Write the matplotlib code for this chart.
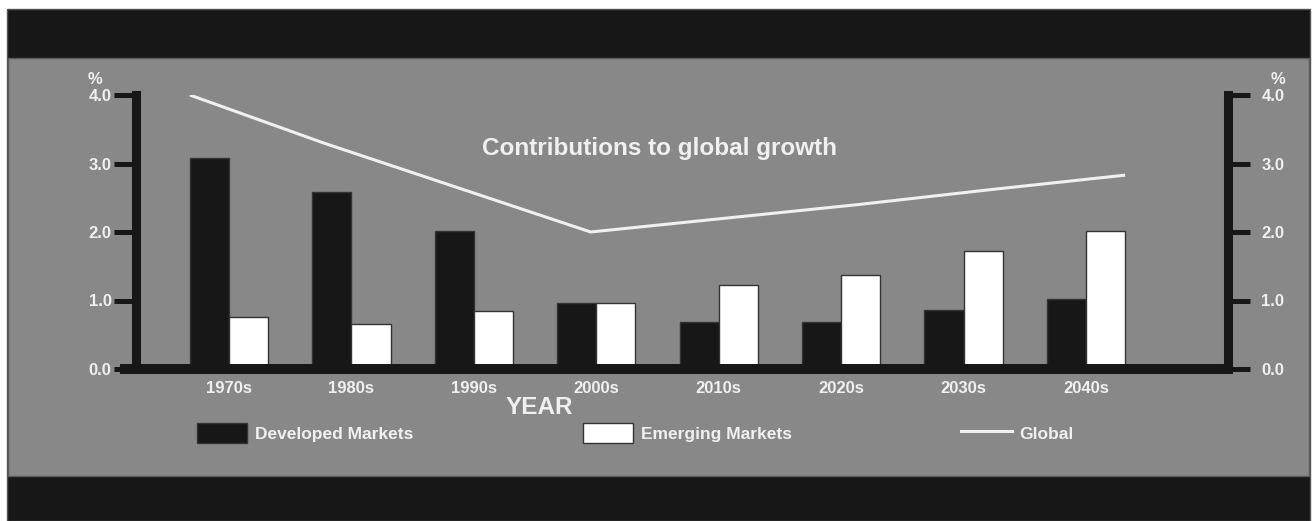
import matplotlib.pyplot as plt
import numpy as np
from matplotlib.patches import Rectangle, Patch
from matplotlib.lines import Line2D

plt.rcParams['font.family'] = ['Liberation Sans', 'DejaVu Sans']
plt.rcParams['font.weight'] = 'bold'

decades = ['1970s', '1980s', '1990s', '2000s', '2010s', '2020s', '2030s', '2040s']
developed = [3.08, 2.58, 2.01, 0.97, 0.69, 0.69, 0.86, 1.02]
emerging = [0.76, 0.66, 0.85, 0.97, 1.23, 1.37, 1.72, 2.01]
global_growth = [4.0, 3.3, 2.65, 2.0, 2.2, 2.4, 2.62, 2.83]
y_ticks = [0.0, 1.0, 2.0, 3.0, 4.0]

dark = '#171717'
panel = '#878887'
ink = '#f0f0f0'

W, H = 1316, 521
fig = plt.figure(figsize=(W / 100, H / 100), dpi=100)
fig.patch.set_facecolor('white')

# black frame with grey panel in the middle
fig.add_artist(Rectangle((7 / W, 0), 1303 / W, 512 / H, transform=fig.transFigure,
                         facecolor=dark, edgecolor='#555555', lw=1, zorder=0))
fig.add_artist(Rectangle((8 / W, 1 - 476 / H), 1301 / W, 418 / H, transform=fig.transFigure,
                         facecolor=panel, edgecolor='#5a5a5a', lw=1, zorder=0))

ax = fig.add_axes([136 / W, 1 - 369 / H, 1092 / W, 274 / H])
ax.set_facecolor('none')

x = np.arange(len(decades))
w = 0.32
ax.bar(x - w / 2, developed, w, color=dark, edgecolor='#333333', lw=1, zorder=2)
ax.bar(x + w / 2, emerging, w, color='white', edgecolor='#333333', lw=1, zorder=2)

# global line spans from the first bar's left edge to the last bar's right edge
line_x = np.linspace(-w, len(decades) - 1 + w, len(decades))
ax.plot(line_x, global_growth, color=ink, lw=2.2, zorder=3, solid_capstyle='butt')

ax.set_xlim(-0.76, 8.16)
ax.set_ylim(0, 4.0)

for s in ['top', 'bottom']:
    ax.spines[s].set_visible(False)
for s in ['left', 'right']:
    ax.spines[s].set_linewidth(6.5)
    ax.spines[s].set_color(dark)

# thick baseline
ax.plot([-16 / 1092, 1 + 5 / 1092], [0, 0], transform=ax.transAxes, color=dark,
        lw=7.2, solid_capstyle='butt', clip_on=False, zorder=4)

ax.set_xticks(x, decades)
ax.tick_params(axis='x', length=0, pad=8.6, labelsize=12, labelcolor=ink)
ax.set_yticks(y_ticks, [f'{v:.1f}' for v in y_ticks])
ax.tick_params(axis='y', length=15.5, width=3.6, color=dark, pad=2,
               labelsize=12, labelcolor=ink)

ax2 = ax.twinx()
ax2.set_ylim(0, 4.0)
for s in ['top', 'bottom', 'left', 'right']:
    ax2.spines[s].set_visible(False)
ax2.set_yticks(y_ticks, [f'{v:.1f}' for v in y_ticks])
ax2.tick_params(axis='y', length=15.5, width=3.6, color=dark, pad=8.6,
                labelsize=12, labelcolor=ink)

fig.text(95 / W, 1 - 79 / H, '%', color=ink, fontsize=12, ha='center', va='center')
fig.text(1278 / W, 1 - 79 / H, '%', color=ink, fontsize=12, ha='center', va='center')

fig.text(660 / W, 1 - 148 / H, 'Contributions to global growth', color=ink,
         fontsize=17.5, ha='center', va='center')
fig.text(539 / W, 1 - 408 / H, 'YEAR', color=ink, fontsize=17.5,
         ha='center', va='center')

handles = [Patch(facecolor=dark, edgecolor='#333333', lw=1),
           Patch(facecolor='white', edgecolor='#333333', lw=1),
           Line2D([], [], color=ink, lw=2.2)]
fig.legend(handles, ['Developed Markets', 'Emerging Markets', 'Global'],
           loc='center left', bbox_to_anchor=(188 / W, 1 - 433 / H), ncol=3,
           frameon=False, borderpad=0, fontsize=12.5, labelcolor=ink,
           handlelength=2.9, handleheight=1.38, handletextpad=0.46,
           columnspacing=9.75)

fig.savefig('out.png', dpi=100, facecolor=fig.get_facecolor())
